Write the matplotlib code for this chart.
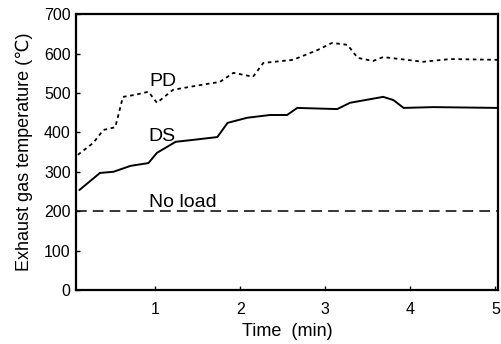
import matplotlib
matplotlib.use("Agg")
import matplotlib.pyplot as plt

plt.rcParams['font.family'] = ['Liberation Sans', 'DejaVu Sans']

# DS (solid)
ds_t = [0.11, 0.35, 0.51, 0.71, 0.92, 1.02, 1.24, 1.45, 1.73, 1.85, 2.08, 2.35,
        2.55, 2.67, 3.14, 3.29, 3.68, 3.80, 3.92, 4.27, 5.02]
ds_v = [254, 297, 300, 315, 322, 348, 376, 381, 388, 424, 437, 444,
        444, 462, 459, 475, 490, 482, 462, 464, 462]

# PD (dotted)
pd_t = [0.09, 0.27, 0.39, 0.53, 0.62, 0.76, 0.92, 1.02, 1.21, 1.53, 1.76, 1.92,
        2.15, 2.27, 2.62, 2.91, 3.08, 3.26, 3.38, 3.56, 3.68, 4.15, 4.47, 5.02]
pd_v = [343, 373, 406, 413, 490, 495, 503, 475, 508, 520, 528, 551,
        541, 576, 584, 609, 627, 622, 589, 581, 591, 579, 586, 584]

# No load (dashed)
nl_t = [0.07, 5.03]
nl_v = [200, 200]

fig = plt.figure(figsize=(5.01, 3.44), dpi=100)
ax = fig.add_axes([0.152, 0.157, 0.842, 0.802])

ax.plot(ds_t, ds_v, color='black', lw=1.4, ls='-')
ax.plot(pd_t, pd_v, color='black', lw=1.3, ls=(0, (2, 2)))
ax.plot(nl_t, nl_v, color='black', lw=1.1, ls=(0, (7, 4)))

ax.text(0.93, 518, 'PD', fontsize=14)
ax.text(0.92, 378, 'DS', fontsize=14)
ax.text(0.93, 211, 'No load', fontsize=14)

ax.set_xlim(0.07, 5.03)
ax.set_ylim(0, 700)
ax.set_xticks([1, 2, 3, 4, 5])
ax.set_yticks(range(0, 701, 100))
ax.tick_params(direction='in', length=3, labelsize=11.5, width=1)
ax.tick_params(axis='x', pad=9)
ax.tick_params(axis='y', pad=4)
for s in ax.spines.values():
    s.set_linewidth(1.6)

ax.set_xlabel('Time  (min)', fontsize=13, labelpad=4)
ax.set_ylabel('Exhaust gas temperature (\u2103)', fontsize=13, labelpad=8)

fig.savefig('out.png', dpi=100)
